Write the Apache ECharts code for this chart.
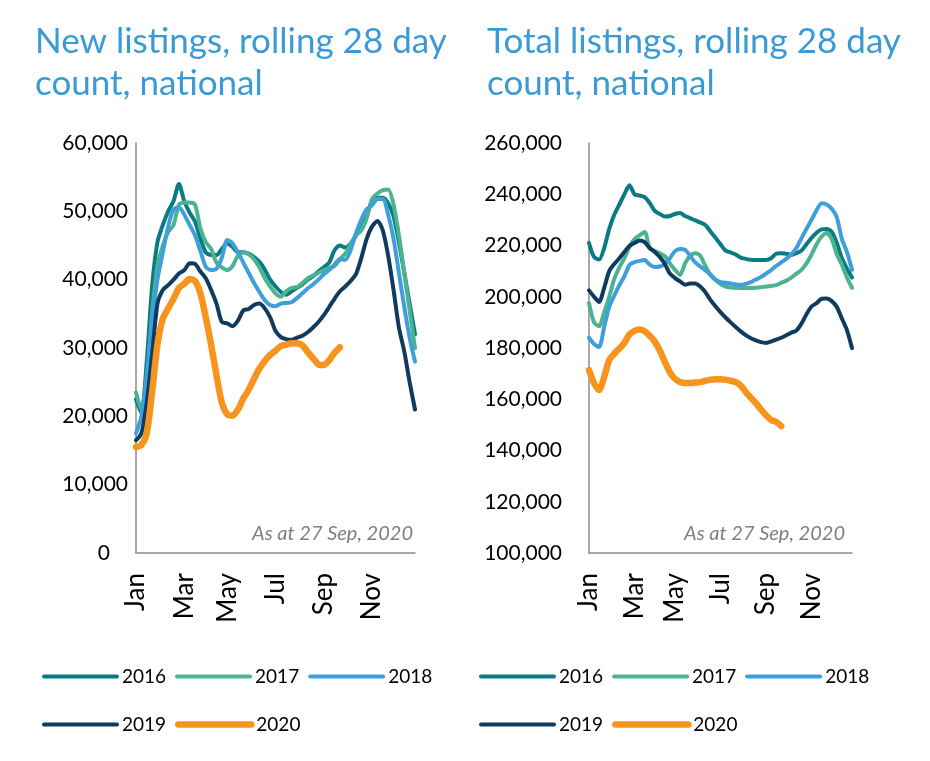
<!DOCTYPE html>
<html><head><meta charset="utf-8">
<script src="https://cdn.jsdelivr.net/npm/echarts@6/dist/echarts.min.js"></script>
<style>html,body{margin:0;padding:0;background:#fff}#c{width:930px;height:761px}</style>
</head><body><div id="c"></div>
<script>
// ---- data (values in thousands, one point per week, week 0 = start of Jan) ----
const years = ['2016', '2017', '2018', '2019', '2020'];
const monthLabels = ['Jan', 'Mar', 'May', 'Jul', 'Sep', 'Nov'];
const monthWeeks = [0, 9, 17, 26, 35, 44];
const weekCount = 53;

const newTicks = { min: 0, max: 60, interval: 10 };
const totalTicks = { min: 100, max: 260, interval: 20 };

const new2016 = [22.5,20.5,28,39,45.5,48,50,51.5,54,51.5,49.8,48.5,46,44,43.6,43.6,44.5,45.3,44.8,44,44,43.8,43.3,42.6,41.5,40,39,38.2,37.8,38.3,38.8,39.3,40,40.5,41.2,41.8,42.5,44.3,45,44.7,45.3,46.5,48.5,49.5,51.5,52,52,51.2,49.3,45.5,41,36.5,32];
const new2017 = [23.5,21,25,35,42,45,47,48,51,51.3,51.3,51,47.5,45.5,44.5,42.5,41.8,41.4,42,43.5,44,43.7,43,41.8,40.2,39,38,37.5,38.3,38.8,38.9,39.5,40.2,40.6,41,41.4,41.7,42,43,43.8,45.2,46.5,47.2,49,51.8,52.6,53.1,53.2,51,46.5,41,35.5,30];
const new2018 = [17.5,20,26,34,40,44,47.8,50.3,50.6,49.5,48,46.5,44.2,41.9,41.4,41.6,43.2,45.8,45.3,44,42.5,41,39.5,38.2,37,36.3,36.1,36.5,36.6,36.7,37.3,38,38.7,39.3,40,40.8,41.4,42.2,43,42.9,44.3,46.8,48.8,50.3,50.9,51.8,51.8,49.5,46,41,36,31.5,28];
const new2019 = [16.5,17.5,22,29,36.5,38.5,39.2,40,40.9,41.4,42.4,42.3,41.2,40.2,38.5,36.5,33.8,33.6,33.2,34,35.5,35.7,36.3,36.5,35.8,34.5,32.5,31.6,31.3,31.2,31.5,31.8,32.3,33,33.8,34.8,36,37.2,38.3,39,39.8,40.8,43.2,46,47.8,48.6,47.2,43.5,38.5,33,29.5,25,21];
const new2020 = [15.5,15.8,17.5,23.5,30.5,34.3,35.8,37.2,38.8,39.4,40.1,39.8,38,34.5,30.5,26,22,20.3,20.1,21,22.6,23.9,25.5,27,28.1,29,29.6,30.3,30.5,30.7,30.7,30.4,29.4,28.5,27.6,27.5,28.2,29.3,30.1];

const total2016 = [221,215.5,214.5,219,226.5,232,236,240,243.5,240,239.5,238.9,236.6,233.5,232.3,231.3,231.5,232.3,232.7,231.5,230.7,229.8,229,228,225.5,223,220.5,218,217.3,216.5,215.3,214.8,214.4,214.3,214.3,214.3,215,216.8,217,216.8,216.3,217,218,220.5,223,225,226.3,226.4,225.3,221,215,211,207.5];
const total2017 = [197.5,190,188.5,194,200,207,211.5,215,219.5,222.5,224,225.3,219,217.8,217,215.8,213,210.5,208.5,213,216,217,216,212,208.5,206.5,205,204,203.6,203.5,203.4,203.4,203.4,203.5,203.7,204,204.2,204.5,205.5,206.3,207.5,209,210.5,213,216.5,220.5,223.5,224.9,222.5,216.5,212.5,207.5,203.5];
const total2018 = [184,181.6,180.4,188.2,196,200.5,204.5,208,212.4,213.5,214,214.3,212.5,211.6,211.8,212.8,215,217.8,218.6,218.3,216,213.4,211.8,210.3,208.8,206.7,205.7,205.5,205.2,204.8,204.6,205,205.7,206.7,207.7,209,210.4,212,213.4,214.8,216.5,219,222.8,226.5,230,233.8,236.5,236,234.3,231,222.5,217.5,210.5];
const total2019 = [202.5,200,198,203.5,210,212.8,215,217.5,219.8,221,222,221.3,219,217.5,215.5,212.8,209,207.3,206,204.7,205.2,205.2,204,201.8,198.8,196.3,194,191.9,190,188.2,186.5,185,183.8,183,182.3,182,182.5,183.3,184,185,186,186.8,189.5,193.2,196.2,197.5,199.2,199.3,198.3,196,191.5,187,180];
const total2020 = [171.4,166.3,163.6,168.7,175.3,177.8,179.8,182,185.3,186.7,187.2,186.5,184.8,182.5,179,174.5,170.5,168,166.7,166.3,166.3,166.5,166.7,167.2,167.6,167.8,167.8,167.6,167.2,166.7,165.3,162.8,160.6,158.5,156,153.8,151.9,151.2,149.5];

const newSeries = [new2016, new2017, new2018, new2019, new2020];
const totalSeries = [total2016, total2017, total2018, total2019, total2020];
const yearColors = ['#0b7b83', '#4cb391', '#3f9fdb', '#0f3b5f', '#f7941e'];
const titles = ['New listings, rolling 28 day\ncount, national', 'Total listings, rolling 28 day\ncount, national'];
const note = 'As at 27 Sep, 2020';

// ---- chart ----
const FONT = 'Lato';
const weekCats = [];
for (let i = 0; i < weekCount; i++) {
  const k = monthWeeks.indexOf(i);
  weekCats.push(k >= 0 ? monthLabels[k] : '');
}
function fmt(v) {
  return String(Math.round(v * 1000)).replace(/\B(?=(\d{3})+(?!\d))/g, ',');
}
const axisColor = '#8c8c8c';
function lineW(y) { return y === '2020' ? 6.5 : 4; }
function xAxis(g) {
  return {
    type: 'category', gridIndex: g, data: weekCats, boundaryGap: false,
    axisLine: { lineStyle: { color: axisColor, width: 1.5 } },
    axisTick: { show: false },
    axisLabel: { interval: 0, rotate: 90, margin: 20, fontFamily: FONT, fontSize: 26, color: '#000' }
  };
}
function yAxis(g, t, margin) {
  return {
    type: 'value', gridIndex: g, min: t.min, max: t.max, interval: t.interval,
    axisLine: { show: true, lineStyle: { color: axisColor, width: 1.5 } },
    axisTick: { show: false }, splitLine: { show: false },
    axisLabel: {
      margin: margin, fontFamily: FONT, fontSize: 21, color: '#000',
      formatter: v => v === 0 ? '{z|0}' : fmt(v),
      rich: { z: { padding: [0, 18, 0, 0], fontFamily: FONT, fontSize: 21, color: '#000' } }
    }
  };
}
const series = [];
[newSeries, totalSeries].forEach((arr, g) => {
  arr.forEach((d, i) => {
    series.push({
      type: 'line', name: years[i], xAxisIndex: g, yAxisIndex: g, data: d,
      symbol: 'none', smooth: 0.25, animation: false,
      lineStyle: { width: lineW(years[i]), color: yearColors[i], cap: 'round', join: 'round' },
      itemStyle: { color: yearColors[i] }
    });
  });
});
function legend(left, top, names) {
  return {
    left: left, top: top, itemWidth: 73, itemHeight: 20, itemGap: 9, selectedMode: false,
    data: names.map(n => ({ name: n, lineStyle: { width: lineW(n), cap: 'round' } })),
    textStyle: { fontFamily: FONT, fontSize: 19, color: '#000' },
    itemStyle: { opacity: 0, borderWidth: 0 },
    lineStyle: { cap: 'round' }
  };
}
const chart = echarts.init(document.getElementById('c'));
chart.setOption({
  animation: false,
  title: titles.map((t, i) => ({
    text: t, left: i === 0 ? 30 : 482, top: 16,
    textStyle: { fontFamily: FONT, fontSize: 35, fontWeight: 'normal', color: '#3a9ad6', lineHeight: 42 }
  })),
  grid: [
    { left: 136, width: 279, top: 143, height: 410 },
    { left: 589, width: 263, top: 143, height: 410 }
  ],
  xAxis: [xAxis(0), xAxis(1)],
  yAxis: [yAxis(0, newTicks, 8), yAxis(1, totalTicks, 27)],
  legend: [
    legend(37, 662, years.slice(0, 3)), legend(37, 710, years.slice(3)),
    legend(474, 662, years.slice(0, 3)), legend(474, 710, years.slice(3))
  ],
  graphic: [
    { type: 'text', right: 517, top: 524, style: { text: note, font: 'italic 20px Lato', fill: '#7f7f7f' } },
    { type: 'text', right: 85, top: 524, style: { text: note, font: 'italic 20px Lato', fill: '#7f7f7f' } }
  ],
  series: series
});
</script></body></html>
